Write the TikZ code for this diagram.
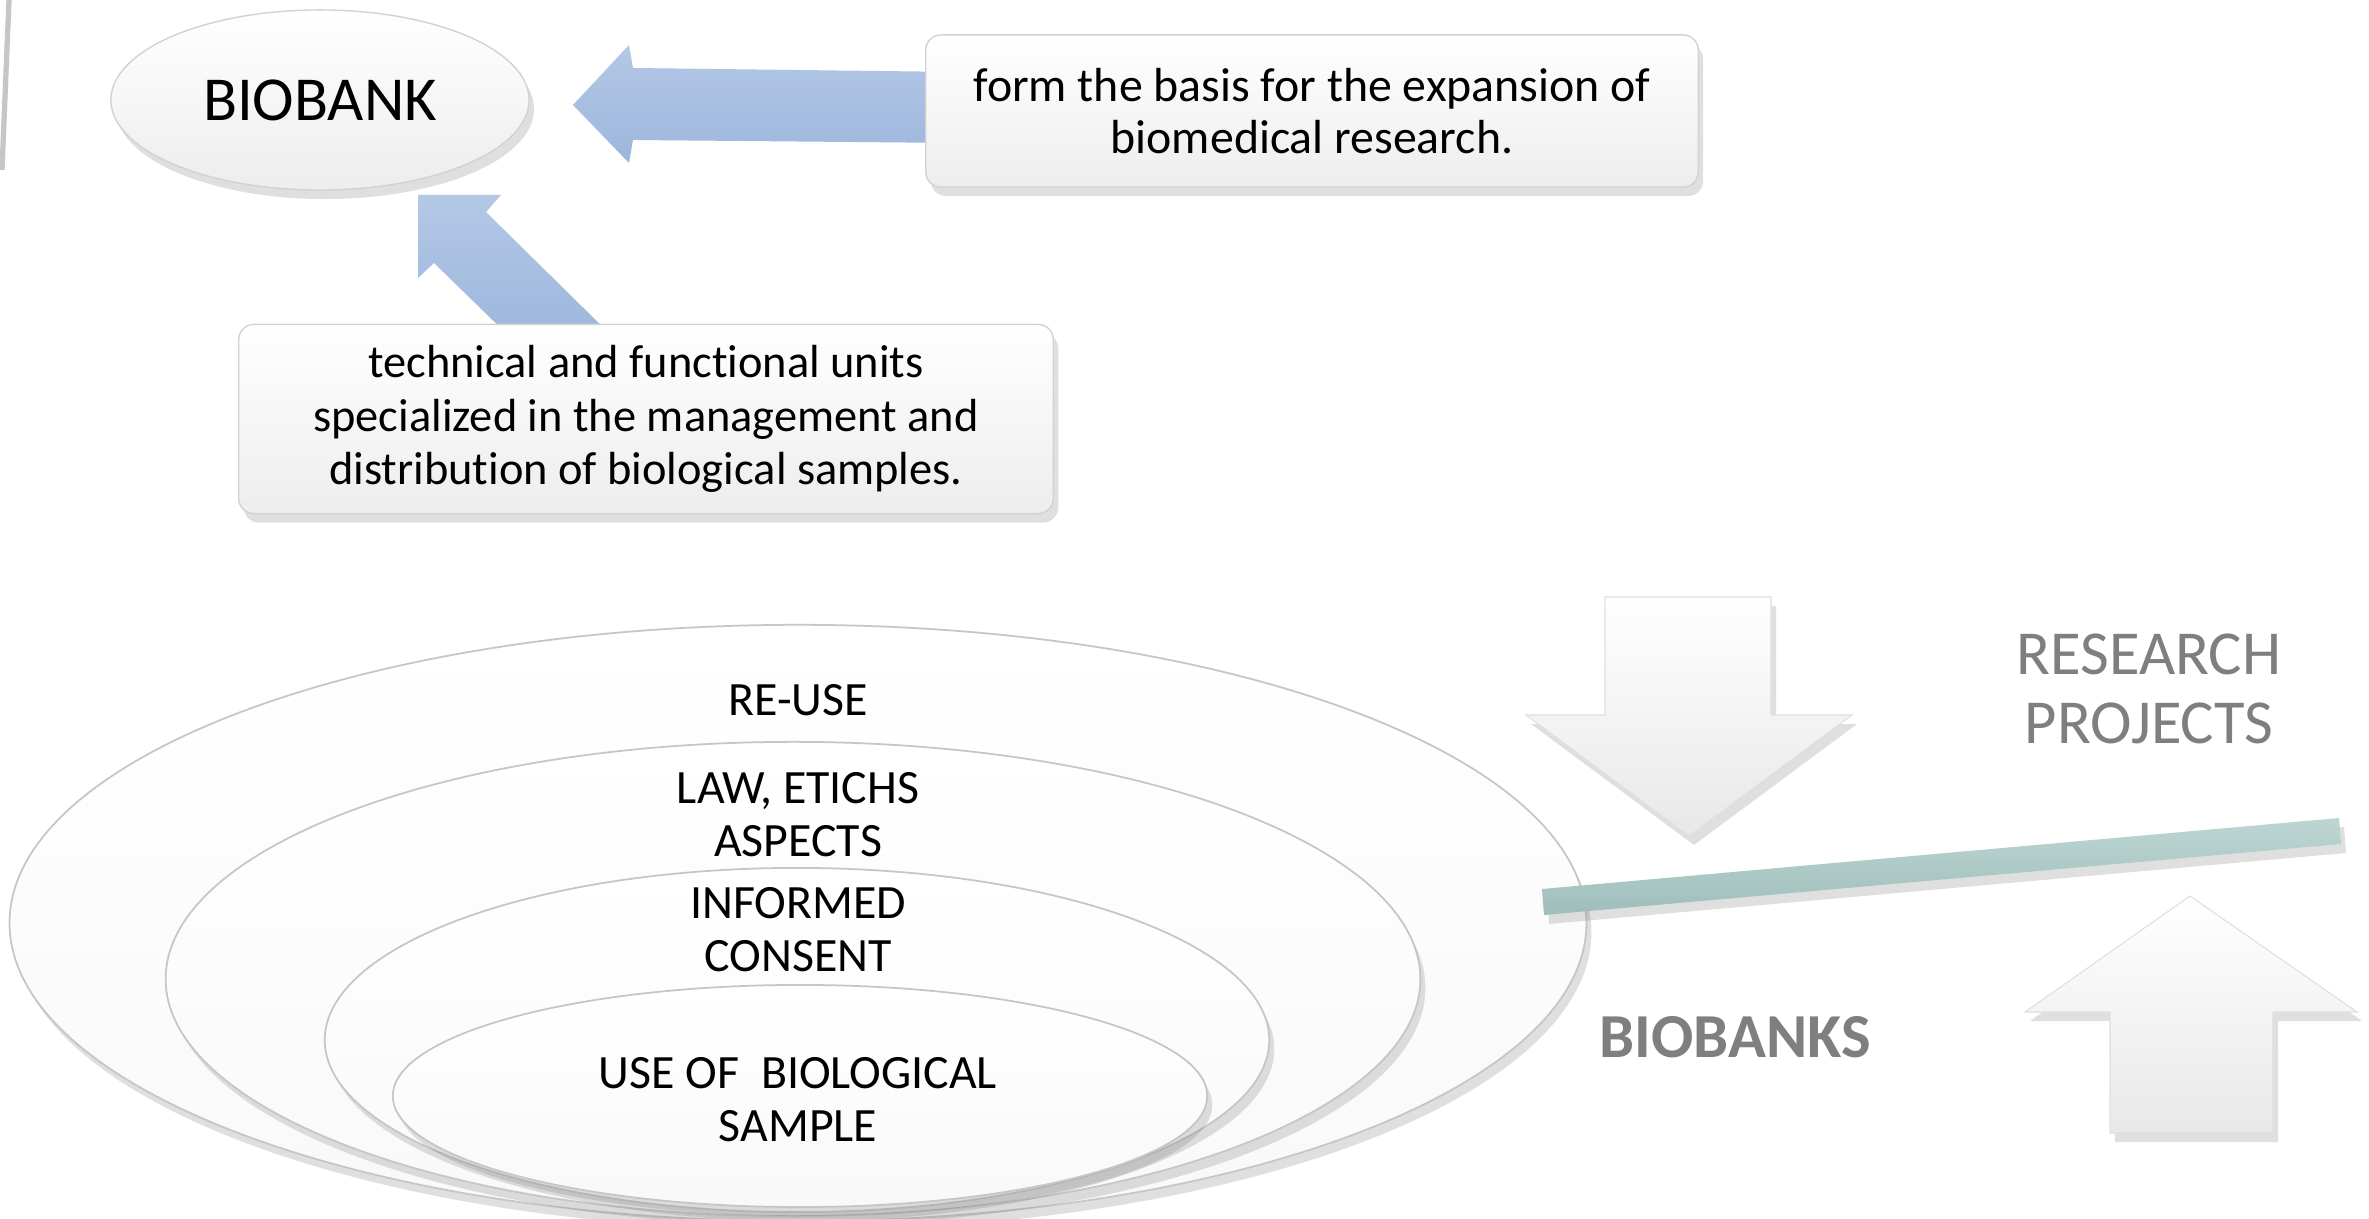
\documentclass[tikz,border=0pt]{standalone}
\usepackage{fontspec}
\setmainfont[Ligatures=NoCommon]{Carlito}
\usetikzlibrary{shapes.geometric,shadows}
\definecolor{bluelight}{RGB}{180,200,230}
\definecolor{bluedark}{RGB}{156,182,220}
\definecolor{teallight}{RGB}{190,214,211}
\definecolor{tealdark}{RGB}{158,190,187}
\definecolor{labelgray}{RGB}{127,127,127}
\tikzset{every node/.style={inner sep=0pt, font=\fontsize{13.6}{15}\selectfont},
  soft/.style={drop shadow={opacity=0.25, shadow xshift=0.5mm, shadow yshift=-0.9mm}},
  card/.style={rectangle, rounded corners=0.15cm, draw=gray!35, top color=white, bottom color=gray!14, soft, align=center},
  ring/.style={draw=gray!45, line width=0.5pt, top color=white, bottom color=gray!5, soft},
  block/.style={draw=gray!25, line width=0.3pt, top color=white, bottom color=gray!18, soft},
  bluefill/.style={top color=bluelight, bottom color=bluedark},
  bigtext/.style={font=\fontsize{17.8}{19.8}\selectfont}}

\begin{document}
\begin{tikzpicture}[x=0.01cm, y=-0.01cm]
  \useasboundingbox (0,0) rectangle (2369,1219);
  \fill[white] (0,0) rectangle (2369,1219);
  \draw[gray!45, line width=1.5pt] (9,0) -- (2,170);
  \path[bluefill] (573,105) -- (629,45) -- (633,68) -- (960,72) -- (960,143) -- (633,140) -- (629,163) -- cycle;
  \path[bluefill] (418,195) -- (501,195) -- (486,212) -- (616,340) -- (513,340) -- (434,263) -- (418,278) -- cycle;
  \node[ellipse, minimum width=4.18cm, minimum height=1.8cm, draw=gray!35, top color=white, bottom color=gray!14, soft, bigtext] (biobank) at (320,100) {BIOBANK};
  \node[card, minimum width=7.72cm, minimum height=1.52cm] (basis) at (1312,111) {form the basis for the expansion of\\biomedical research.};
  \node[card, minimum width=8.14cm, minimum height=1.89cm, font=\fontsize{13.2}{15.2}\selectfont] (units) at (646,419) {technical and functional units\\specialized in the management and\\distribution of biological samples.};
  \path[ring] (798,923) ellipse [x radius=7.88cm, y radius=2.98cm];
  \path[ring] (793,979) ellipse [x radius=6.27cm, y radius=2.37cm];
  \path[ring] (797,1040) ellipse [x radius=4.72cm, y radius=1.72cm];
  \path[ring] (800,1096) ellipse [x radius=4.07cm, y radius=1.11cm];
  \node (reuse) at (798,700) {RE-USE};
  \node[align=center] (law) at (798,815) {LAW, ETICHS\\ASPECTS};
  \node[align=center] (consent) at (798,930) {INFORMED\\CONSENT};
  \node[align=center] (sample) at (798,1100) {USE OF\ \ BIOLOGICAL\\SAMPLE};
  \path[top color=teallight, bottom color=tealdark, soft] (1542,889) -- (2339,818) -- (2341,844) -- (1544,915) -- cycle;
  \path[block] (1605,597) -- (1771,597) -- (1771,715) -- (1852,715) -- (1689,836) -- (1526,715) -- (1605,715) -- cycle;
  \path[block] (2190,896) -- (2357,1012) -- (2273,1012) -- (2273,1133) -- (2110,1133) -- (2110,1012) -- (2025,1012) -- cycle;
  \node[align=center, text=labelgray, bigtext] (research) at (2149,689) {RESEARCH\\PROJECTS};
  \node[text=labelgray, font=\bfseries\fontsize{17.8}{20}\selectfont] (biobanks) at (1735,1037) {BIOBANKS};
\end{tikzpicture}
\end{document}
